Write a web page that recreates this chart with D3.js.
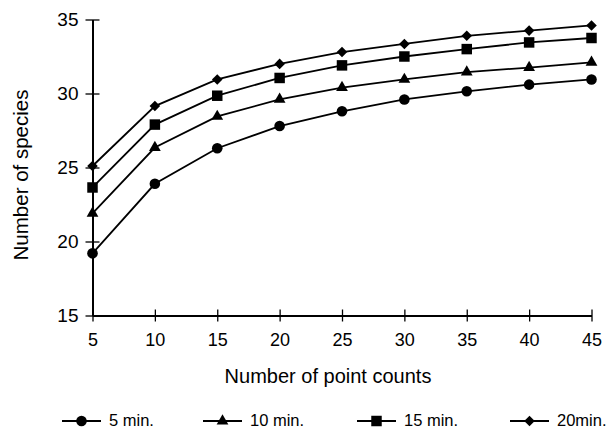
<!DOCTYPE html>
<html>
<head>
<meta charset="utf-8">
<script src="https://cdn.jsdelivr.net/npm/d3@7"></script>
<style>
  body { margin: 0; background: #fff; }
  svg { display: block; font-family: "Liberation Sans", Arial, sans-serif; }
</style>
</head>
<body>
<div id="chart"></div>
<script>
// Data
const pointCounts = [5, 10, 15, 20, 25, 30, 35, 40, 45];
const min5  = [19.2, 23.9, 26.3, 27.8, 28.8, 29.6, 30.15, 30.6, 30.95];
const min10 = [21.9, 26.35, 28.45, 29.6, 30.4, 30.95, 31.45, 31.75, 32.1];
const min15 = [23.65, 27.9, 29.85, 31.05, 31.9, 32.5, 33.0, 33.45, 33.75];
const min20 = [25.1, 29.15, 30.95, 32.0, 32.8, 33.35, 33.9, 34.25, 34.6];
const seriesNames = ["5 min.", "10 min.", "15 min.", "20min."];
const yTicks = [15, 20, 25, 30, 35];

// diamond drawn as a square turned 45 degrees
const symbolDiamondSquare = {
    draw: function (context, size) {
        const r = Math.sqrt(size / 2);
        context.moveTo(0, -r);
        context.lineTo(r, 0);
        context.lineTo(0, r);
        context.lineTo(-r, 0);
        context.closePath();
    }
};

const series = [
    { name: seriesNames[0], values: min5,  symbol: d3.symbolCircle,   size: 88 },
    { name: seriesNames[1], values: min10, symbol: d3.symbolTriangle, size: 60 },
    { name: seriesNames[2], values: min15, symbol: d3.symbolSquare,   size: 110 },
    { name: seriesNames[3], values: min20, symbol: symbolDiamondSquare, size: 56 }
];

const W = 609, H = 429;
const margin = { top: 19.5, right: 17.5, bottom: 113.5, left: 92.5 };
const width = W - margin.left - margin.right;
const height = H - margin.top - margin.bottom;

const svg = d3.select("#chart")
    .append("svg")
    .attr("width", W)
    .attr("height", H);

const g = svg.append("g")
    .attr("transform", "translate(" + margin.left + "," + margin.top + ")");

// Scales
const xScale = d3.scaleLinear().domain([5, 45]).range([0, width]);
const yScale = d3.scaleLinear().domain([15, 35]).range([height, 0]);

// Y axis (ticks cross the axis line)
const yAxis = g.append("g")
    .call(d3.axisLeft(yScale).tickValues(yTicks).tickSizeInner(7).tickSizeOuter(0).tickPadding(7));
yAxis.select(".domain").attr("stroke-width", 2);
yAxis.selectAll(".tick line").attr("x1", 7).attr("stroke-width", 1.3);
yAxis.selectAll("text")
    .style("font-size", "19px")
    .attr("fill", "#000");

// X axis (ticks cross the axis line)
const xAxis = g.append("g")
    .attr("transform", "translate(0," + height + ")")
    .call(d3.axisBottom(xScale).tickValues(pointCounts).tickSizeInner(6).tickSizeOuter(0).tickPadding(12));
xAxis.select(".domain").attr("stroke-width", 2);
xAxis.selectAll(".tick line").attr("y1", -6).attr("y2", 6).attr("stroke-width", 1.3);
xAxis.selectAll("text")
    .style("font-size", "18px")
    .attr("fill", "#000");

// Axis titles
svg.append("text")
    .attr("x", 328)
    .attr("y", 383)
    .attr("text-anchor", "middle")
    .style("font-size", "20px")
    .text("Number of point counts");

svg.append("text")
    .attr("transform", "translate(28,175) rotate(-90)")
    .attr("text-anchor", "middle")
    .style("font-size", "20.5px")
    .text("Number of species");

// Lines and markers
const line = d3.line()
    .x((d, i) => xScale(pointCounts[i]))
    .y(d => yScale(d));

series.forEach(s => {
    g.append("path")
        .datum(s.values)
        .attr("fill", "none")
        .attr("stroke", "#000")
        .attr("stroke-width", 1.8)
        .attr("d", line);

    g.selectAll(null)
        .data(s.values)
        .enter()
        .append("path")
        .attr("transform", (d, i) => "translate(" + xScale(pointCounts[i]) + "," + yScale(d) + ")")
        .attr("d", d3.symbol().type(s.symbol).size(s.size))
        .attr("fill", "#000");
});

// Legend
const legendX = [62, 203, 357, 510];
const legendY = 421;
const legend = svg.append("g");
series.forEach((s, i) => {
    const item = legend.append("g")
        .attr("transform", "translate(" + legendX[i] + "," + legendY + ")");
    item.append("line")
        .attr("x1", 0).attr("x2", 39)
        .attr("y1", 0).attr("y2", 0)
        .attr("stroke", "#000")
        .attr("stroke-width", 1.8);
    item.append("path")
        .attr("transform", "translate(19.5,0)")
        .attr("d", d3.symbol().type(s.symbol).size(s.size))
        .attr("fill", "#000");
    item.append("text")
        .attr("x", 47)
        .attr("y", 4.5)
        .style("font-size", "16.5px")
        .text(s.name);
});
</script>
</body>
</html>
